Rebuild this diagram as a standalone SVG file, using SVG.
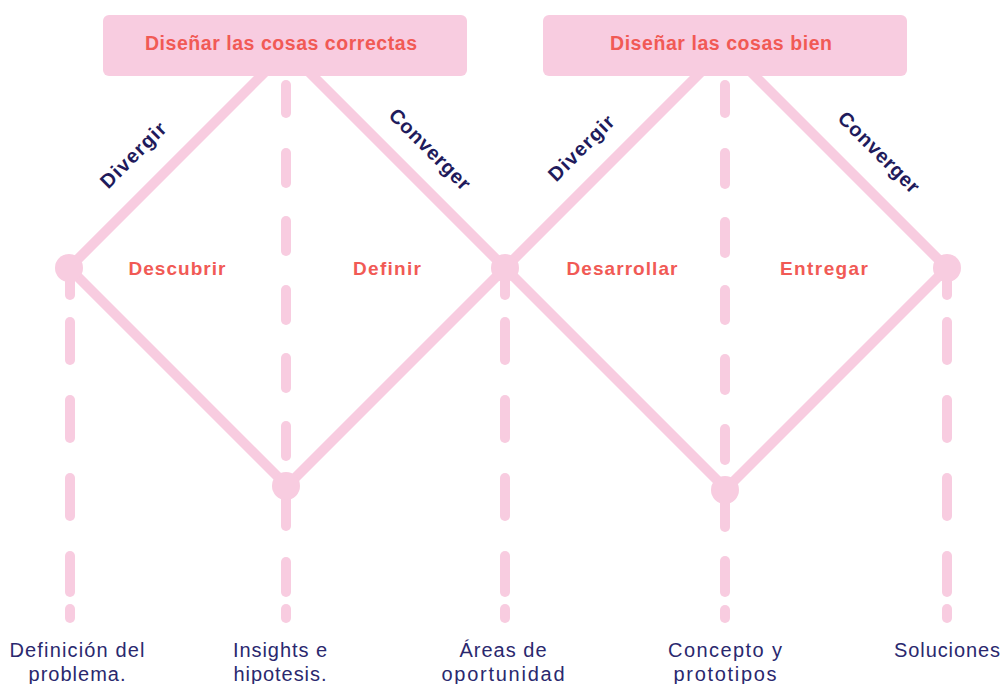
<svg xmlns="http://www.w3.org/2000/svg" width="1004" height="684" viewBox="0 0 1004 684">
<style>
.ln{stroke:#F8CCE0;stroke-width:10;fill:none;stroke-linecap:round}
.ds{stroke:#F8CCE0;stroke-width:10;fill:none;stroke-linecap:round}
.dot{fill:#F8CCE0}
.box{fill:#F8CCE0}
.hd{font-family:"Liberation Sans",Arial,sans-serif;font-weight:bold;font-size:19.5px;fill:#F15A55;text-anchor:middle}
.ph{font-family:"Liberation Sans",Arial,sans-serif;font-weight:bold;font-size:19px;fill:#F15A55;text-anchor:middle}
.dv{font-family:"Liberation Sans",Arial,sans-serif;font-weight:bold;font-size:20px;fill:#1F1B5C;text-anchor:middle}
.bt{font-family:"Liberation Sans",Arial,sans-serif;font-size:20px;fill:#2A286E;text-anchor:middle}
</style>
<rect width="1004" height="684" fill="#FFFFFF"/>
<g id="connectors">
  <line class="ln" x1="69" y1="268" x2="287" y2="50"/>
  <line class="ln" x1="287" y1="50" x2="505" y2="268"/>
  <line class="ln" x1="69" y1="268" x2="287" y2="486"/>
  <line class="ln" x1="287" y1="486" x2="505" y2="268"/>
  <line class="ln" x1="505" y1="268" x2="726" y2="47"/>
  <line class="ln" x1="726" y1="47" x2="947" y2="268"/>
  <line class="ln" x1="505" y1="268" x2="726" y2="489"/>
  <line class="ln" x1="726" y1="489" x2="947" y2="268"/>
  <g id="dash-left">
    <line class="ds" x1="70" y1="270" x2="70" y2="295"/>
    <line class="ds" x1="70" y1="322" x2="70" y2="360"/>
    <line class="ds" x1="70" y1="400" x2="70" y2="438"/>
    <line class="ds" x1="70" y1="478" x2="70" y2="516"/>
    <line class="ds" x1="70" y1="556" x2="70" y2="592"/>
    <line class="ds" x1="70" y1="609" x2="70" y2="618"/>
  </g>
  <g id="dash-mid">
    <line class="ds" x1="505" y1="270" x2="505" y2="295"/>
    <line class="ds" x1="505" y1="322" x2="505" y2="360"/>
    <line class="ds" x1="505" y1="400" x2="505" y2="438"/>
    <line class="ds" x1="505" y1="478" x2="505" y2="516"/>
    <line class="ds" x1="505" y1="556" x2="505" y2="592"/>
    <line class="ds" x1="505" y1="609" x2="505" y2="618"/>
  </g>
  <g id="dash-right">
    <line class="ds" x1="947" y1="270" x2="947" y2="295"/>
    <line class="ds" x1="947" y1="322" x2="947" y2="360"/>
    <line class="ds" x1="947" y1="400" x2="947" y2="438"/>
    <line class="ds" x1="947" y1="478" x2="947" y2="516"/>
    <line class="ds" x1="947" y1="556" x2="947" y2="592"/>
    <line class="ds" x1="947" y1="609" x2="947" y2="618"/>
  </g>
  <g id="dash-c1">
    <line class="ds" x1="286" y1="85" x2="286" y2="113"/>
    <line class="ds" x1="286" y1="153" x2="286" y2="183"/>
    <line class="ds" x1="286" y1="221" x2="286" y2="251"/>
    <line class="ds" x1="286" y1="290" x2="286" y2="320"/>
    <line class="ds" x1="286" y1="358" x2="286" y2="388"/>
    <line class="ds" x1="286" y1="426" x2="286" y2="456"/>
    <line class="ds" x1="286" y1="486" x2="286" y2="526"/>
    <line class="ds" x1="286" y1="562" x2="286" y2="592"/>
    <line class="ds" x1="286" y1="609" x2="286" y2="618"/>
  </g>
  <g id="dash-c2">
    <line class="ds" x1="725" y1="85" x2="725" y2="113"/>
    <line class="ds" x1="725" y1="153" x2="725" y2="184"/>
    <line class="ds" x1="725" y1="222" x2="725" y2="253"/>
    <line class="ds" x1="725" y1="290" x2="725" y2="320"/>
    <line class="ds" x1="725" y1="359" x2="725" y2="390"/>
    <line class="ds" x1="725" y1="429" x2="725" y2="460"/>
    <line class="ds" x1="725" y1="490" x2="725" y2="527"/>
    <line class="ds" x1="725" y1="561" x2="725" y2="592"/>
    <line class="ds" x1="725" y1="610" x2="725" y2="618"/>
  </g>
</g>
<g id="node-left"><circle class="dot" cx="69" cy="268" r="14"/></g>
<g id="node-center"><circle class="dot" cx="505" cy="268" r="14"/></g>
<g id="node-right"><circle class="dot" cx="947" cy="268" r="14"/></g>
<g id="node-bottom1"><circle class="dot" cx="286" cy="486" r="14"/></g>
<g id="node-bottom2"><circle class="dot" cx="725" cy="490" r="14"/></g>
<g id="box-correctas">
  <rect class="box" x="103" y="15" width="364" height="61" rx="6"/>
  <text class="hd" x="281" y="50" textLength="272">Diseñar las cosas correctas</text>
</g>
<g id="box-bien">
  <rect class="box" x="543" y="15" width="364" height="61" rx="6"/>
  <text class="hd" x="721" y="50" textLength="222">Diseñar las cosas bien</text>
</g>
<g id="phase-labels">
  <text class="ph" x="177" y="275" textLength="97">Descubrir</text>
  <text class="ph" x="387" y="275" textLength="68">Definir</text>
  <text class="ph" x="622" y="275" textLength="111">Desarrollar</text>
  <text class="ph" x="824" y="275" textLength="88">Entregar</text>
</g>
<g id="direction-labels">
  <text class="dv" transform="translate(133,155) rotate(-45)" x="0" y="7" textLength="84">Divergir</text>
  <text class="dv" transform="translate(430,149) rotate(45)" x="0" y="7" textLength="106">Converger</text>
  <text class="dv" transform="translate(581,148) rotate(-45)" x="0" y="7" textLength="84">Divergir</text>
  <text class="dv" transform="translate(879,152) rotate(45)" x="0" y="7" textLength="106">Converger</text>
</g>
<g id="bottom-labels">
  <text class="bt" x="77" y="657" textLength="135">Definición del</text>
  <text class="bt" x="77" y="681" textLength="97">problema.</text>
  <text class="bt" x="280" y="657" textLength="94">Insights e</text>
  <text class="bt" x="280" y="681" textLength="93">hipotesis.</text>
  <text class="bt" x="503" y="657" textLength="87">Áreas de</text>
  <text class="bt" x="503" y="681" textLength="123">oportunidad</text>
  <text class="bt" x="725" y="657" textLength="114">Concepto y</text>
  <text class="bt" x="725" y="681" textLength="103">prototipos</text>
  <text class="bt" x="947" y="657" textLength="106">Soluciones</text>
</g>
</svg>
